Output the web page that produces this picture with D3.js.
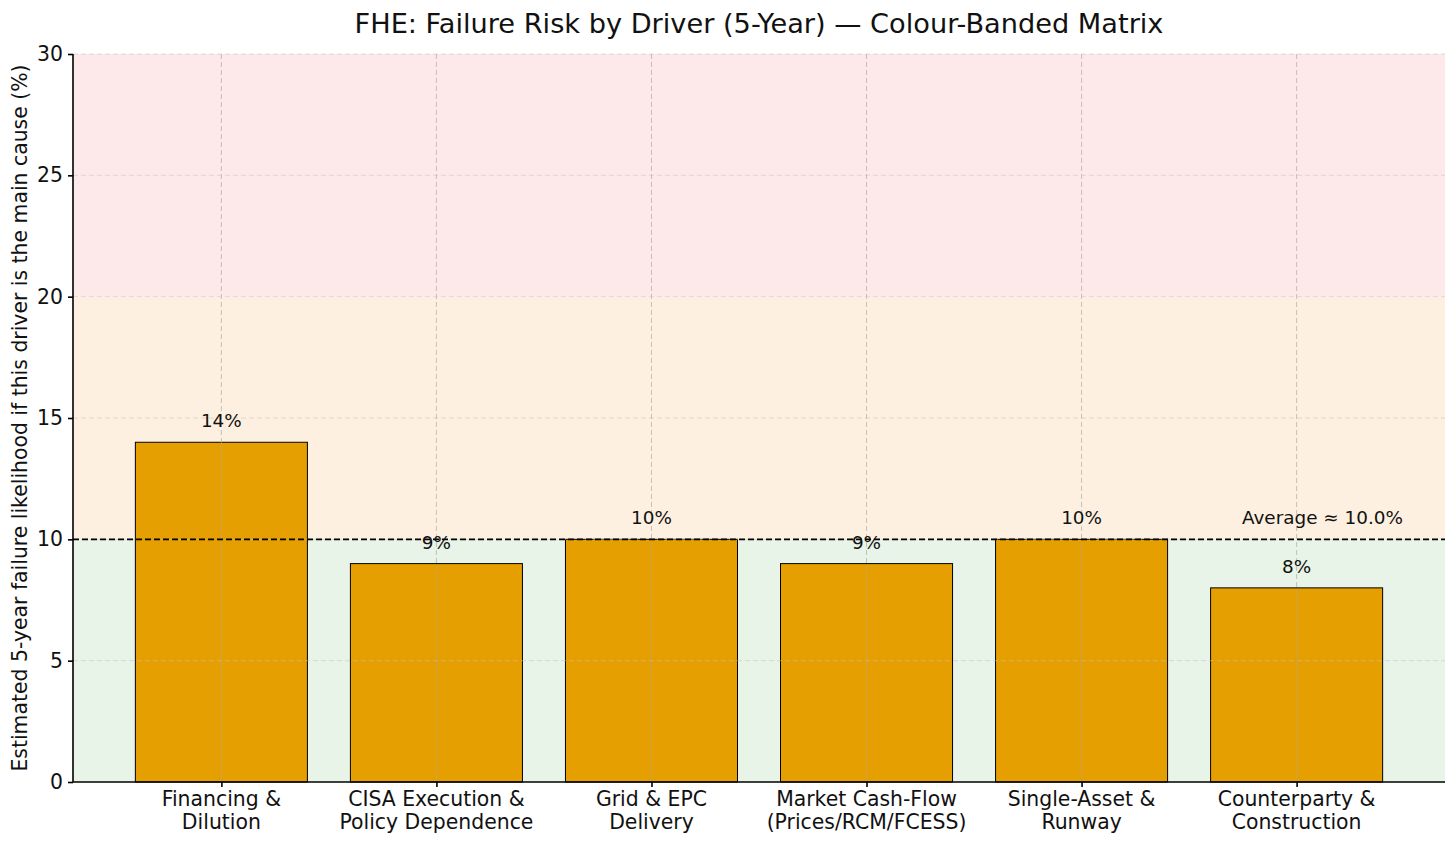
<!DOCTYPE html>
<html><head><meta charset="utf-8">
<script src="https://cdn.jsdelivr.net/npm/d3@7"></script>
<style>body{margin:0;background:#fff}svg{font-family:"DejaVu Sans",sans-serif}</style>
</head><body><svg id="c" width="1456" height="845"></svg>
<script>
const categories = [["Financing &","Dilution"],["CISA Execution &","Policy Dependence"],["Grid & EPC","Delivery"],["Market Cash-Flow","(Prices/RCM/FCESS)"],["Single-Asset &","Runway"],["Counterparty &","Construction"]];
const values = [14, 9, 10, 9, 10, 8];
const yTicks = [0, 5, 10, 15, 20, 25, 30];
const bands = [{from:0,to:10,color:"#e7f4e7"},{from:10,to:20,color:"#fdf0e0"},{from:20,to:30,color:"#fde8ea"}];
const average = 10.0;

const svg = d3.select("#c");
const L=73,R=1445,T=54,B=782;
const x = d3.scaleLinear().domain([-0.69,5.69]).range([L,R]);
const y = d3.scaleLinear().domain([0,30]).range([B,T]);
const bw = x(0.4)-x(-0.4);

svg.append("g").selectAll("rect").data(bands).join("rect")
  .attr("x",L).attr("width",R-L).attr("y",d=>y(d.to)).attr("height",d=>y(d.from)-y(d.to)).attr("fill",d=>d.color);

svg.append("g").selectAll("rect").data(values).join("rect")
  .attr("x",(d,i)=>x(i)-bw/2).attr("width",bw).attr("y",d=>y(d)).attr("height",d=>B-y(d))
  .attr("fill","#e69f00").attr("stroke","#000").attr("stroke-width",1);

// grid
const g = svg.append("g").attr("stroke-dasharray","5,3").attr("stroke-width",0.9);
g.selectAll("line.v").data(values).join("line").attr("class","v").attr("x1",(d,i)=>x(i)).attr("x2",(d,i)=>x(i)).attr("y1",T).attr("y2",B).attr("stroke","#a8a8a8").attr("stroke-opacity",0.75);
g.selectAll("line.h").data(yTicks.slice(1)).join("line").attr("class","h").attr("x1",L).attr("x2",R).attr("y1",d=>y(d)).attr("y2",d=>y(d)).attr("stroke","#c8c0c0").attr("stroke-opacity",0.6);

// average line
svg.append("line").attr("x1",L).attr("x2",R).attr("y1",y(average)).attr("y2",y(average))
  .attr("stroke","#000").attr("stroke-width",1.6).attr("stroke-dasharray","6,3");
svg.append("text").attr("x",1403).attr("y",y(average)-15).attr("text-anchor","end").attr("font-size",18.4).attr("fill","#111")
  .text("Average ≈ " + average.toFixed(1) + "%");

// bar labels
svg.append("g").selectAll("text").data(values).join("text")
  .attr("x",(d,i)=>x(i)).attr("y",d=>y(d)-15).attr("text-anchor","middle").attr("font-size",18.4).attr("fill","#111")
  .text(d=>d+"%");

// axes
const ya = svg.append("g").attr("transform",`translate(${L},0)`).call(d3.axisLeft(y).tickValues(yTicks).tickSize(5).tickPadding(5));
ya.select(".domain").remove();
ya.selectAll("text").attr("font-size",20.4).attr("font-family","DejaVu Sans").attr("fill","#111");
ya.selectAll("line").attr("stroke","#000").attr("stroke-width",1.6);
const xa = svg.append("g").attr("transform",`translate(0,${B})`).call(d3.axisBottom(x).tickValues(d3.range(values.length)).tickSize(5).tickFormat(""));
xa.select(".domain").remove();
xa.selectAll("line").attr("stroke","#000").attr("stroke-width",1.6);
svg.append("line").attr("x1",L).attr("x2",L).attr("y1",T).attr("y2",B).attr("stroke","#000").attr("stroke-width",1.6);
svg.append("line").attr("x1",L).attr("x2",R).attr("y1",B).attr("y2",B).attr("stroke","#000").attr("stroke-width",1.6);

const xl = svg.append("g").selectAll("text").data(categories).join("text")
  .attr("x",(d,i)=>x(i)).attr("y",806).attr("text-anchor","middle").attr("font-size",20.4).attr("fill","#111");
xl.selectAll("tspan").data(d=>d).join("tspan").attr("x",function(){return this.parentNode.getAttribute("x");})
  .attr("dy",(d,i)=>i?23:0).text(d=>d);

svg.append("text").attr("transform",`translate(27,${(T+B)/2}) rotate(-90)`).attr("text-anchor","middle").attr("font-size",20.4).attr("fill","#111")
  .text("Estimated 5-year failure likelihood if this driver is the main cause (%)");
svg.append("text").attr("x",(L+R)/2).attr("y",33).attr("text-anchor","middle").attr("font-size",27.2).attr("fill","#111")
  .text("FHE: Failure Risk by Driver (5-Year) — Colour-Banded Matrix");
</script></body></html>
